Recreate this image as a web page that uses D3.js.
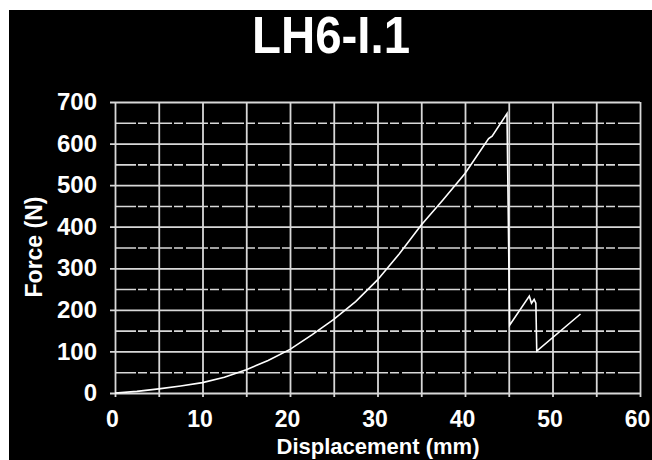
<!DOCTYPE html>
<html>
<head>
<meta charset="utf-8">
<script src="https://cdn.jsdelivr.net/npm/d3@7"></script>
<style>
  body { margin: 0; background: #fff; }
  svg { display: block; }
</style>
</head>
<body>
<div id="graphics"></div>
<script>
var width = 652, height = 460;

// data
var displacement = [0, 2.5, 5, 7.5, 10, 12.5, 15, 17.5, 20, 22.5, 25, 27.5, 30, 32.5, 35, 37.5, 40, 42.7, 43.1, 44.8,
                    45.1, 47.35, 47.6, 47.9, 48.1, 48.2, 53.2];
var force = [0, 4, 10, 17, 25, 38, 56, 78, 105, 140, 177, 220, 272, 335, 404, 465, 528, 612, 618, 672,
             163, 233, 216, 225, 216, 101, 190];
var xTicks = [0, 5, 10, 15, 20, 25, 30, 35, 40, 45, 50, 55, 60];
var yMajor = [0, 100, 200, 300, 400, 500, 600, 700];
var yMinor = [50, 150, 250, 350, 450, 550, 650];

var svg = d3.select('#graphics')
            .append('svg')
            .attr('width', width)
            .attr('height', height)
            .style('font-family', 'Liberation Sans, Arial, sans-serif');

// scanned page: white strip on top and left
svg.append('rect').attr('width', width).attr('height', height).attr('fill', '#fff');
svg.append('rect').attr('x', 9).attr('y', 10)
   .attr('width', width - 9).attr('height', height - 10).attr('fill', '#000');

var x = d3.scaleLinear().domain([0, 60]).range([115, 640]);
var y = d3.scaleLinear().domain([0, 700]).range([393, 102]);

var gridColor = '#d8d8d8';

// minor horizontal grid
svg.append('g')
   .attr('transform', 'translate(640,0)')
   .call(d3.axisLeft(y).tickValues(yMinor).tickSize(525).tickFormat(''))
   .call(g => g.select('.domain').remove())
   .call(g => g.selectAll('line')
      .attr('stroke', gridColor)
      .attr('stroke-width', 1.6)
      .attr('stroke-dasharray', '22,3,9,2'));

// major horizontal grid + labels
svg.append('g')
   .attr('transform', 'translate(640,0)')
   .call(d3.axisLeft(y).tickValues(yMajor).tickSize(530).tickPadding(13))
   .call(g => g.select('.domain').remove())
   .call(g => g.selectAll('line')
      .attr('stroke', gridColor)
      .attr('stroke-width', 1.8))
   .call(g => g.selectAll('text')
      .attr('fill', '#fff')
      .style('font-size', '24px')
      .style('font-weight', 'bold')
      .style('font-family', 'Liberation Sans, Arial, sans-serif'));

// vertical grid + labels
svg.append('g')
   .attr('transform', 'translate(0,102)')
   .call(d3.axisBottom(x).tickValues(xTicks).tickSize(295).tickPadding(14)
      .tickFormat(d => d % 10 === 0 ? d : ''))
   .call(g => g.select('.domain').remove())
   .call(g => g.selectAll('line')
      .attr('stroke', gridColor)
      .attr('stroke-width', 1.8))
   .call(g => g.selectAll('text')
      .attr('fill', '#fff')
      .attr('dx', -3)
      .style('font-size', '23px')
      .style('font-weight', 'bold')
      .style('font-family', 'Liberation Sans, Arial, sans-serif'));

// the curve
var line = d3.line()
             .x((d, i) => x(displacement[i]))
             .y(d => y(d));

svg.append('path')
   .datum(force)
   .attr('d', line)
   .attr('fill', 'none')
   .attr('stroke', '#fff')
   .attr('stroke-width', 1.6)
   .attr('stroke-linejoin', 'miter');

// titles
svg.append('text')
   .attr('x', 331)
   .attr('y', 53)
   .attr('text-anchor', 'middle')
   .attr('textLength', 158)
   .attr('lengthAdjust', 'spacingAndGlyphs')
   .attr('fill', '#fff')
   .style('font-size', '52px')
   .style('font-weight', 'bold')
   .text('LH6-I.1');

svg.append('text')
   .attr('x', 378)
   .attr('y', 454)
   .attr('text-anchor', 'middle')
   .attr('fill', '#fff')
   .style('font-size', '22px')
   .style('font-weight', 'bold')
   .text('Displacement (mm)');

svg.append('text')
   .attr('transform', 'translate(42,247) rotate(-90)')
   .attr('text-anchor', 'middle')
   .attr('fill', '#fff')
   .style('font-size', '23px')
   .style('font-weight', 'bold')
   .text('Force (N)');
</script>
</body>
</html>
